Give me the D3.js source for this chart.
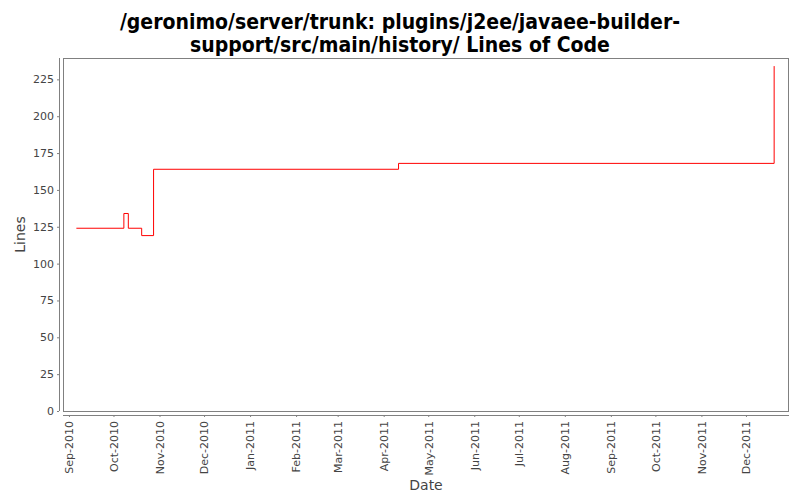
<!DOCTYPE html>
<html><head><meta charset="utf-8">
<script src="https://cdn.jsdelivr.net/npm/d3@7"></script>
<style>body{margin:0;background:#fff}</style>
</head><body><svg id="c" width="800" height="500"></svg>
<script>
const dates = ["2010-09-06","2010-10-08","2010-10-11","2010-10-20","2010-10-28","2011-04-11","2011-12-20"];
const lines = [124,134,124,119,164,168,234];
const yTicks = [0,25,50,75,100,125,150,175,200,225];
const xTickLabels = ["Sep-2010","Oct-2010","Nov-2010","Dec-2010","Jan-2011","Feb-2011","Mar-2011","Apr-2011","May-2011","Jun-2011","Jul-2011","Aug-2011","Sep-2011","Oct-2011","Nov-2011","Dec-2011"];
const titleLines = ["/geronimo/server/trunk: plugins/j2ee/javaee-builder-","support/src/main/history/ Lines of Code"];

const parse = d3.timeParse("%Y-%m-%d");
const fmt = d3.timeFormat("%b-%Y");
const data = dates.map((d,i)=>({date:parse(d), v:lines[i]}));
const svg = d3.select("#c");
const L=63, R=789, T=58, B=411;
const x = d3.scaleTime().domain([parse("2010-08-28"), parse("2011-12-30")]).range([L,R]);
const y = d3.scaleLinear().domain([0,239.5]).range([B,T]);

svg.append("rect").attr("x",L+0.5).attr("y",T+0.5).attr("width",R-L-1).attr("height",B-T).attr("fill","#fff").attr("stroke","#808080");

const tickDates = xTickLabels.map(s=>d3.timeParse("%b-%Y")(s));
const xa = svg.append("g").attr("transform",`translate(0,${B+4})`)
  .call(d3.axisBottom(x).tickValues(tickDates).tickFormat(fmt).tickSizeInner(2).tickSizeOuter(0).tickPadding(3));
xa.selectAll("text").attr("transform","rotate(-90)").attr("text-anchor","end").attr("dx",0).attr("dy","0.35em").attr("x",-6).attr("y",0);
const ya = svg.append("g").attr("transform",`translate(${L-4},0)`)
  .call(d3.axisLeft(y).tickValues(yTicks).tickSizeInner(2).tickSizeOuter(0).tickPadding(3));
[xa,ya].forEach(a=>{
  a.selectAll("path").attr("stroke","#808080");
  a.selectAll("line").attr("stroke","#808080");
  a.selectAll("text").attr("fill","#444").style("font-family","DejaVu Sans").style("font-size","11px");
});
xa.select(".domain").attr("d",`M${L},0.5H${R}`);
ya.select(".domain").attr("d",`M0.5,${T}V${B}`);

svg.append("path").datum(data).attr("fill","none").attr("stroke","#ff0000").attr("stroke-width",1)
  .attr("d", d3.line().x(d=>x(d.date)).y(d=>y(d.v)).curve(d3.curveStepAfter));

svg.selectAll(".title").data(titleLines).enter().append("text")
  .attr("x",400).attr("y",(d,i)=>29+i*23).attr("text-anchor","middle")
  .style("font-family","DejaVu Sans Condensed").style("font-weight","bold").style("font-size","21px").attr("fill","#000").text(d=>d);

svg.append("text").attr("x",(L+R)/2).attr("y",490).attr("text-anchor","middle")
  .style("font-family","DejaVu Sans").style("font-size","14px").attr("fill","#444").text("Date");
svg.append("text").attr("transform",`translate(25,${(T+B)/2}) rotate(-90)`).attr("text-anchor","middle")
  .style("font-family","DejaVu Sans").style("font-size","14px").attr("fill","#444").text("Lines");
</script></body></html>
